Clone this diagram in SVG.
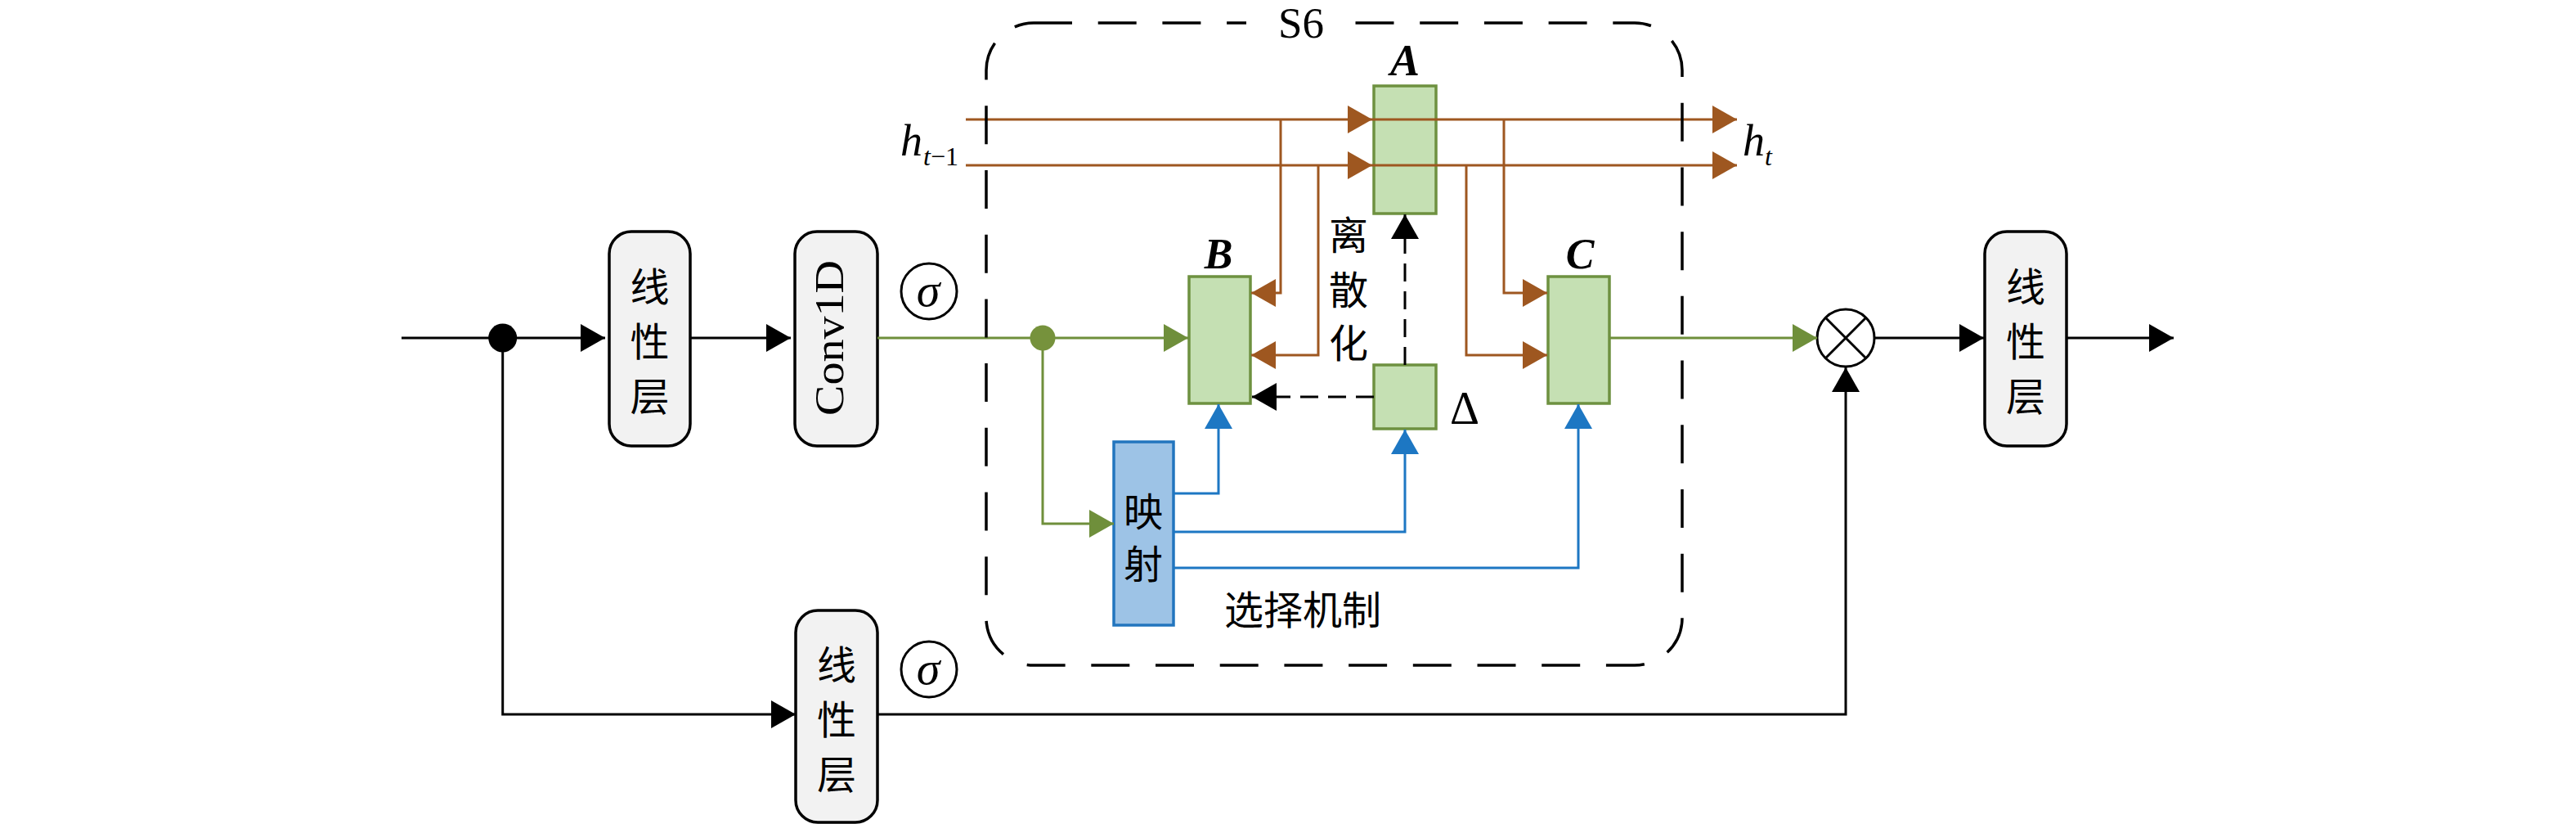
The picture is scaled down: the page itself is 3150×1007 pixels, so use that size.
<svg xmlns="http://www.w3.org/2000/svg" width="3150" height="1007" viewBox="0 0 3150 1007">
<style>
.lin{fill:#F2F2F2;stroke:#000;stroke-width:3.5}
.gbox{fill:#C5E0B3;stroke:#6E9140;stroke-width:3.5}
.bbox{fill:#9DC3E6;stroke:#2275BE;stroke-width:3.5}
.cjk{font-family:"Noto Sans CJK SC",sans-serif;font-size:48px;text-anchor:middle;dominant-baseline:central;fill:#000}
.math{font-family:"Liberation Serif","DejaVu Serif",serif;fill:#000}
.mi{font-style:italic}
.k{fill:none;stroke:#000;stroke-width:3}
.br{fill:none;stroke:#9E5720;stroke-width:3}
.gr{fill:none;stroke:#6F8F3B;stroke-width:3}
.bl{fill:none;stroke:#1D77C3;stroke-width:3}
.dash{stroke-dasharray:22 12}
.circ{fill:#fff;stroke:#000;stroke-width:3}
</style>
<defs>
<marker id="ak" markerUnits="userSpaceOnUse" viewBox="0 0 30 34" markerWidth="30" markerHeight="34" refX="30" refY="17" orient="auto"><path d="M0,0 L30,17 L0,34 z" fill="#000"/></marker>
<marker id="abr" markerUnits="userSpaceOnUse" viewBox="0 0 30 34" markerWidth="30" markerHeight="34" refX="30" refY="17" orient="auto"><path d="M0,0 L30,17 L0,34 z" fill="#9E5720"/></marker>
<marker id="agr" markerUnits="userSpaceOnUse" viewBox="0 0 30 34" markerWidth="30" markerHeight="34" refX="30" refY="17" orient="auto"><path d="M0,0 L30,17 L0,34 z" fill="#6F8F3B"/></marker>
<marker id="abl" markerUnits="userSpaceOnUse" viewBox="0 0 30 34" markerWidth="30" markerHeight="34" refX="30" refY="17" orient="auto"><path d="M0,0 L30,17 L0,34 z" fill="#1D77C3"/></marker>
</defs>

<g id="nodes">
<g id="linear1"><rect class="lin" x="745" y="283" width="99" height="262" rx="27"/>
<text class="cjk" x="794.5" y="347">线</text><text class="cjk" x="794.5" y="414">性</text><text class="cjk" x="794.5" y="481">层</text></g>
<g id="conv1d"><rect class="lin" x="972" y="283" width="101" height="262" rx="27"/>
<text class="math" font-size="50" text-anchor="middle" textLength="190" lengthAdjust="spacingAndGlyphs" transform="translate(1031,413) rotate(-90)">Conv1D</text></g>
<g id="sigma1"><circle class="circ" cx="1136" cy="356" r="34" stroke-width="2.5"/><text class="math mi" x="1135" y="374" font-size="58" text-anchor="middle">σ</text></g>
<g id="linear2"><rect class="lin" x="973" y="746" width="100" height="259" rx="27"/>
<text class="cjk" x="1023" y="809">线</text><text class="cjk" x="1023" y="876">性</text><text class="cjk" x="1023" y="943">层</text></g>
<g id="sigma2"><circle class="circ" cx="1136" cy="818" r="34" stroke-width="2.5"/><text class="math mi" x="1135" y="836" font-size="58" text-anchor="middle">σ</text></g>
<g id="boxA"><rect class="gbox" x="1680" y="105" width="76" height="156"/><text class="math" x="1718" y="92" font-size="54" font-weight="bold" font-style="italic" text-anchor="middle">A</text></g>
<g id="boxB"><rect class="gbox" x="1454" y="338" width="75" height="155"/><text class="math" x="1490" y="328" font-size="52" font-weight="bold" font-style="italic" text-anchor="middle">B</text></g>
<g id="boxC"><rect class="gbox" x="1893" y="338" width="75" height="155"/><text class="math" x="1932" y="328" font-size="52" font-weight="bold" font-style="italic" text-anchor="middle">C</text></g>
<g id="delta"><rect class="gbox" x="1680" y="446" width="76" height="78"/><text class="math" x="1791" y="518" font-size="56" text-anchor="middle">Δ</text></g>
<g id="proj"><rect class="bbox" x="1362" y="540" width="73" height="224"/>
<text class="cjk" x="1398" y="622">映</text><text class="cjk" x="1398" y="686">射</text></g>
<g id="mult"><circle class="circ" cx="2257" cy="413" r="35"/><path class="k" d="M2232.3,388.3 L2281.7,437.7 M2281.7,388.3 L2232.3,437.7"/></g>
<g id="linear3"><rect class="lin" x="2427" y="283" width="100" height="262" rx="27"/>
<text class="cjk" x="2477" y="347">线</text><text class="cjk" x="2477" y="414">性</text><text class="cjk" x="2477" y="481">层</text></g>
<g id="labels">
<text class="cjk" x="1649" y="284">离</text><text class="cjk" x="1649" y="351">散</text><text class="cjk" x="1649" y="416">化</text>
<text class="cjk" x="1593" y="742" font-size="52">选择机制</text>
<text class="math" x="1101" y="190" font-size="54"><tspan class="mi">h</tspan></text>
<text class="math" x="1129" y="202" font-size="32"><tspan class="mi">t</tspan>−1</text>
<text class="math" x="2131" y="190" font-size="54"><tspan class="mi">h</tspan></text>
<text class="math mi" x="2158" y="202" font-size="32">t</text>
</g>
</g>

<g id="connectors">
<path class="k" d="M491,413 H740" marker-end="url(#ak)"/>
<path class="k" d="M844,413 H967" marker-end="url(#ak)"/>
<path class="k" d="M614.7,413 V873 H973" marker-end="url(#ak)"/>
<path class="k" d="M1073,873 H2257 V449" marker-end="url(#ak)"/>
<path class="k" d="M2292,413 H2426" marker-end="url(#ak)"/>
<path class="k" d="M2527,413 H2658" marker-end="url(#ak)"/>
<path class="gr" d="M1073,413 H1453" marker-end="url(#agr)"/>
<path class="gr" d="M1275,413 V640 H1362" marker-end="url(#agr)"/>
<path class="gr" d="M1968,413 H2222" marker-end="url(#agr)"/>
<path class="br" d="M1181,146 H1678" marker-end="url(#abr)"/>
<path class="br" d="M1678,146 H2124" marker-end="url(#abr)"/>
<path class="br" d="M1181,202 H1678" marker-end="url(#abr)"/>
<path class="br" d="M1678,202 H2124" marker-end="url(#abr)"/>
<path class="br" d="M1566,146 V358 H1530" marker-end="url(#abr)"/>
<path class="br" d="M1612,202 V434 H1530" marker-end="url(#abr)"/>
<path class="br" d="M1839,146 V358 H1892" marker-end="url(#abr)"/>
<path class="br" d="M1793,202 V434 H1892" marker-end="url(#abr)"/>
<path class="bl" d="M1435,603 H1490 V494" marker-end="url(#abl)"/>
<path class="bl" d="M1435,650 H1718 V525" marker-end="url(#abl)"/>
<path class="bl" d="M1435,694 H1930 V494" marker-end="url(#abl)"/>
<path class="k dash" d="M1718,446 V262" marker-end="url(#ak)"/>
<path class="k dash" d="M1680,485 H1531" marker-end="url(#ak)"/>
<circle cx="614.7" cy="413" r="17.5" fill="#000"/>
<circle cx="1275" cy="413" r="15.5" fill="#76923C"/>
</g>

<g id="s6">
<rect x="1206" y="28" width="851" height="785" rx="58" fill="none" stroke="#000" stroke-width="3.5" stroke-dasharray="47 31.7"/>
<rect x="1524" y="18" width="133" height="20" fill="#fff"/>
<text class="math" x="1591" y="46" font-size="53" text-anchor="middle">S6</text>
</g>
</svg>
